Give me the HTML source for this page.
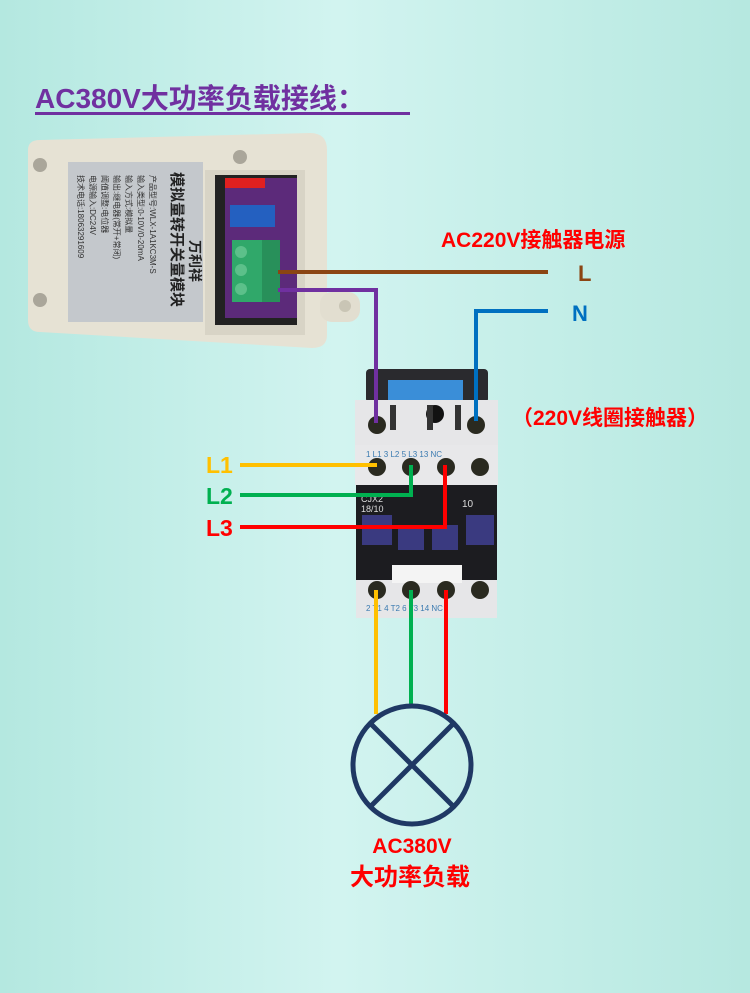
<!DOCTYPE html>
<html><head><meta charset="utf-8"><style>
html,body{margin:0;padding:0;}
body{width:750px;height:993px;overflow:hidden;background:linear-gradient(90deg,#b4e8e0 0%,#d2f4f0 45%,#b6e8e0 100%);font-family:"Liberation Sans","Noto Sans CJK SC",sans-serif;}
svg{display:block}
</style></head><body>
<svg width="750" height="993" viewBox="0 0 750 993" xmlns="http://www.w3.org/2000/svg" font-family="Liberation Sans, Noto Sans CJK SC, sans-serif">
<text x="35" y="108" font-size="28" font-weight="bold" fill="#7030a0">AC380V大功率负载接线：</text>
<rect x="35" y="112" width="375" height="3" fill="#7030a0"/>

<rect x="48" y="218" width="20" height="68" fill="#2ea86a"/>
<path d="M28 150 Q28 140 40 140 L310 133 Q327 133 327 150 L327 335 Q327 348 312 348 L40 332 Q28 332 28 320 Z" fill="#e6e2d4"/>
<rect x="320" y="292" width="40" height="30" rx="12" fill="#e2ded0"/>
<circle cx="345" cy="306" r="6" fill="#c9c5b5"/>
<circle cx="40" cy="165" r="7" fill="#aaa69a"/>
<circle cx="240" cy="157" r="7" fill="#aaa69a"/>
<circle cx="40" cy="300" r="7" fill="#aaa69a"/>
<circle cx="240" cy="320" r="7" fill="#aaa69a"/>
<rect x="68" y="162" width="135" height="160" fill="#c4c8cc"/>
<text transform="translate(172,172) rotate(90)" font-size="15" font-weight="bold" fill="#222">模拟量转开关量模块</text>
<text transform="translate(190,240) rotate(90)" font-size="14" font-weight="bold" fill="#222">万利祥</text>
<text transform="translate(150,175) rotate(90)" font-size="8" fill="#333">产品型号:WLX-1A1KC3M-S</text>
<text transform="translate(138,175) rotate(90)" font-size="8" fill="#333">输入类型:0-10V/0-20mA</text>
<text transform="translate(126,175) rotate(90)" font-size="8" fill="#333">输入方式:模拟量</text>
<text transform="translate(114,175) rotate(90)" font-size="8" fill="#333">输出:继电器(常开+常闭)</text>
<text transform="translate(102,175) rotate(90)" font-size="8" fill="#333">阈值调整:电位器</text>
<text transform="translate(90,175) rotate(90)" font-size="8" fill="#333">电源输入:DC24V</text>
<text transform="translate(78,175) rotate(90)" font-size="8" fill="#333">技术电话:18063291609</text>
<rect x="205" y="170" width="100" height="165" fill="#d8d4c6"/>
<rect x="215" y="175" width="82" height="150" fill="#222"/>
<rect x="225" y="178" width="72" height="140" fill="#5c2a7a"/>
<rect x="225" y="178" width="40" height="10" fill="#e02020"/>
<rect x="230" y="205" width="45" height="22" fill="#2460c0"/>
<rect x="232" y="240" width="45" height="62" fill="#30a86a"/>
<rect x="262" y="240" width="18" height="62" fill="#28905a"/>
<circle cx="241" cy="252" r="6" fill="#5cc08a"/><circle cx="241" cy="270" r="6" fill="#5cc08a"/><circle cx="241" cy="289" r="6" fill="#5cc08a"/>

<rect x="366" y="369" width="122" height="34" rx="4" fill="#2a2a2e"/>
<rect x="388" y="380" width="75" height="22" fill="#3a8ed8"/>
<rect x="355" y="400" width="143" height="46" fill="#e6e6e8"/>
<rect x="355" y="445" width="143" height="40" fill="#e8e8ea"/>
<circle cx="377" cy="425" r="9" fill="#2a2a20"/><circle cx="476" cy="425" r="9" fill="#2a2a20"/>
<circle cx="435" cy="414" r="9" fill="#111"/>
<rect x="390" y="405" width="6" height="25" fill="#333"/><rect x="427" y="405" width="6" height="25" fill="#333"/><rect x="455" y="405" width="6" height="25" fill="#333"/>
<text x="366" y="457" font-size="8" fill="#3a7ab0">1 L1   3 L2   5 L3  13 NC</text>
<circle cx="377" cy="467" r="9" fill="#2a2a20"/><circle cx="411" cy="467" r="9" fill="#2a2a20"/><circle cx="446" cy="467" r="9" fill="#2a2a20"/><circle cx="480" cy="467" r="9" fill="#2a2a20"/>
<rect x="356" y="485" width="141" height="95" fill="#1c1c20"/>
<text x="361" y="502" font-size="9" fill="#ddd">CJX2</text><text x="361" y="512" font-size="9" fill="#ddd">18/10</text>
<text x="462" y="507" font-size="10" fill="#ddd">10</text>
<rect x="362" y="515" width="30" height="30" fill="#3a3a80"/><rect x="398" y="525" width="26" height="25" fill="#3a3a80"/><rect x="432" y="525" width="26" height="25" fill="#3a3a80"/><rect x="466" y="515" width="28" height="30" fill="#3a3a80"/>
<rect x="356" y="580" width="141" height="38" fill="#e6e6e8"/>
<rect x="392" y="565" width="70" height="18" fill="#f4f4f4"/>
<circle cx="377" cy="590" r="9" fill="#2a2a20"/><circle cx="411" cy="590" r="9" fill="#2a2a20"/><circle cx="446" cy="590" r="9" fill="#2a2a20"/><circle cx="480" cy="590" r="9" fill="#2a2a20"/>
<text x="366" y="611" font-size="8" fill="#3a7ab0">2 T1   4 T2   6 T3  14 NC</text>

<g fill="none" stroke-width="4">
<path d="M278 272 H548" stroke="#8b4513"/>
<path d="M278 290 H376 V423" stroke="#7030a0"/>
<path d="M548 311 H476 V421" stroke="#0070c0"/>
<path d="M240 465 H377" stroke="#ffc000"/>
<path d="M240 495 H411 V465" stroke="#00b050"/>
<path d="M240 527 H445 V465" stroke="#ff0000"/>
<path d="M376 590 V714" stroke="#ffc000"/>
<path d="M411 590 V706" stroke="#00b050"/>
<path d="M446 590 V714" stroke="#ff0000"/>
</g>
<g fill="none" stroke="#1f3864" stroke-width="5">
<circle cx="412" cy="765" r="59"/>
<path d="M370 723 L454 807 M454 723 L370 807"/>
</g>

<text x="441" y="247" font-size="21" font-weight="bold" fill="#ff0000">AC220V接触器电源</text>
<text x="578" y="281" font-size="22" font-weight="bold" fill="#8b4513">L</text>
<text x="572" y="321" font-size="22" font-weight="bold" fill="#0070c0">N</text>
<text x="512" y="425" font-size="21" font-weight="bold" fill="#ff0000">（220V线圈接触器）</text>
<text x="206" y="473" font-size="23" font-weight="bold" fill="#ffc000">L1</text>
<text x="206" y="504" font-size="23" font-weight="bold" fill="#00b050">L2</text>
<text x="206" y="536" font-size="23" font-weight="bold" fill="#ff0000">L3</text>
<text x="412" y="853" font-size="21" font-weight="bold" fill="#ff0000" text-anchor="middle">AC380V</text>
<text x="410" y="885" font-size="24" font-weight="bold" fill="#ff0000" text-anchor="middle">大功率负载</text>
</svg>
</body></html>
